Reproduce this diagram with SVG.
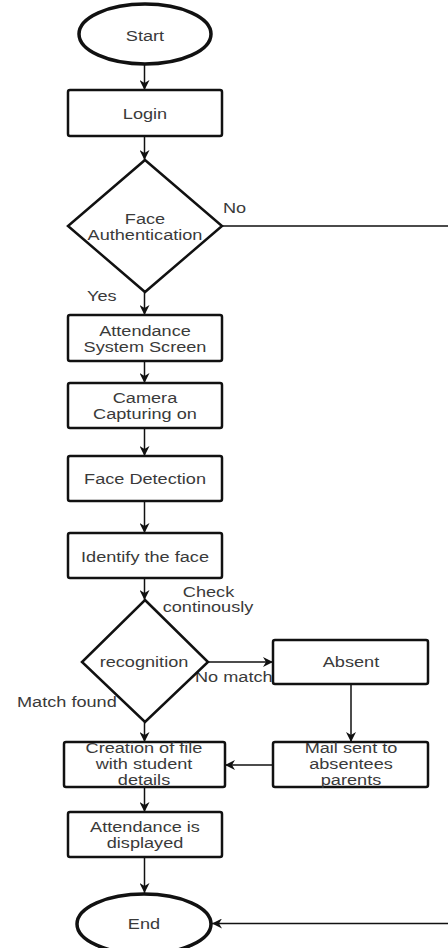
<svg xmlns="http://www.w3.org/2000/svg" width="448" height="948" viewBox="0 0 448 948">
<style>
.shape{fill:#fff;stroke:#111;stroke-width:2.5}
.term{fill:#fff;stroke:#111;stroke-width:3.5}
.t{font-family:"Liberation Sans",Arial,sans-serif;font-size:15.5px;fill:#3a3a3a;text-anchor:middle}
.l{font-family:"Liberation Sans",Arial,sans-serif;font-size:15.5px;fill:#3a3a3a}
.c{fill:none;stroke:#111;stroke-width:1.5}
</style>
<defs>
<marker id="ah" viewBox="0 0 10 10" refX="10" refY="5" markerWidth="10" markerHeight="10" markerUnits="userSpaceOnUse" orient="auto">
<path d="M0,0 L10,5 L0,10 L3,5 z" fill="#111"/>
</marker>
</defs>
<rect width="448" height="948" fill="#fff"/>
<g id="connectors">
<path class="c" d="M144.5,64 V90" marker-end="url(#ah)"/>
<path class="c" d="M144.5,136 V160" marker-end="url(#ah)"/>
<path class="c" d="M144.5,292 V315" marker-end="url(#ah)"/>
<path class="c" d="M144.5,361 V383" marker-end="url(#ah)"/>
<path class="c" d="M144.5,428 V456" marker-end="url(#ah)"/>
<path class="c" d="M144.5,501 V533" marker-end="url(#ah)"/>
<path class="c" d="M144.5,578 V600" marker-end="url(#ah)"/>
<path class="c" d="M208,662 H273" marker-end="url(#ah)"/>
<path class="c" d="M144.5,722 V742" marker-end="url(#ah)"/>
<path class="c" d="M351,684 V742" marker-end="url(#ah)"/>
<path class="c" d="M273,765 H225" marker-end="url(#ah)"/>
<path class="c" d="M144.5,787 V812" marker-end="url(#ah)"/>
<path class="c" d="M144.5,857 V893" marker-end="url(#ah)"/>
<path class="c" d="M222,226 H449 V923.5 H212" marker-end="url(#ah)"/>
<text class="l" transform="matrix(1.17 0 0 1 223 213)">No</text>
<text class="l" transform="matrix(1.17 0 0 1 87 301)">Yes</text>
<text class="t" transform="matrix(1.17 0 0 1 208.5 597)">Check</text>
<text class="t" transform="matrix(1.17 0 0 1 208 612)">continously</text>
<text class="l" transform="matrix(1.17 0 0 1 195 682)">No match</text>
<text class="l" transform="matrix(1.17 0 0 1 17 707)">Match found</text>
</g>
<g id="start">
<ellipse class="term" cx="145" cy="34" rx="66" ry="30"/>
<text class="t" transform="matrix(1.17 0 0 1 145 41)">Start</text>
</g>
<g id="login">
<rect class="shape" x="68" y="90" width="154" height="46" rx="2"/>
<text class="t" transform="matrix(1.17 0 0 1 145 119)">Login</text>
</g>
<g id="face-auth">
<polygon class="shape" points="145,160 222,226 145,292 68,226"/>
<text class="t" transform="matrix(1.17 0 0 1 145 224)">Face</text>
<text class="t" transform="matrix(1.17 0 0 1 145 240)">Authentication</text>
</g>
<g id="attendance-screen">
<rect class="shape" x="68" y="315" width="154" height="46" rx="2"/>
<text class="t" transform="matrix(1.17 0 0 1 145 336)">Attendance</text>
<text class="t" transform="matrix(1.17 0 0 1 145 352)">System Screen</text>
</g>
<g id="camera">
<rect class="shape" x="68" y="383" width="154" height="45" rx="2"/>
<text class="t" transform="matrix(1.17 0 0 1 145 403)">Camera</text>
<text class="t" transform="matrix(1.17 0 0 1 145 419)">Capturing on</text>
</g>
<g id="face-detection">
<rect class="shape" x="68" y="456" width="154" height="45" rx="2"/>
<text class="t" transform="matrix(1.17 0 0 1 145 484)">Face Detection</text>
</g>
<g id="identify">
<rect class="shape" x="68" y="533" width="154" height="45" rx="2"/>
<text class="t" transform="matrix(1.17 0 0 1 145 562)">Identify the face</text>
</g>
<g id="recognition">
<polygon class="shape" points="145,600 208,662 145,722 82,662"/>
<text class="t" transform="matrix(1.17 0 0 1 144 667)">recognition</text>
</g>
<g id="absent">
<rect class="shape" x="273" y="640" width="155" height="44" rx="2"/>
<text class="t" transform="matrix(1.17 0 0 1 351 667)">Absent</text>
</g>
<g id="creation">
<rect class="shape" x="64" y="742" width="161" height="45" rx="2"/>
<text class="t" transform="matrix(1.17 0 0 1 144 753)">Creation of file</text>
<text class="t" transform="matrix(1.17 0 0 1 144 769)">with student</text>
<text class="t" transform="matrix(1.17 0 0 1 144 785)">details</text>
</g>
<g id="mail">
<rect class="shape" x="273" y="742" width="155" height="45" rx="2"/>
<text class="t" transform="matrix(1.17 0 0 1 351 753)">Mail sent to</text>
<text class="t" transform="matrix(1.17 0 0 1 351 769)">absentees</text>
<text class="t" transform="matrix(1.17 0 0 1 351 785)">parents</text>
</g>
<g id="displayed">
<rect class="shape" x="68" y="812" width="154" height="45" rx="2"/>
<text class="t" transform="matrix(1.17 0 0 1 145 832)">Attendance is</text>
<text class="t" transform="matrix(1.17 0 0 1 145 848)">displayed</text>
</g>
<g id="end">
<ellipse class="term" cx="144" cy="924" rx="67" ry="30"/>
<text class="t" transform="matrix(1.17 0 0 1 144 929)">End</text>
</g>
</svg>
